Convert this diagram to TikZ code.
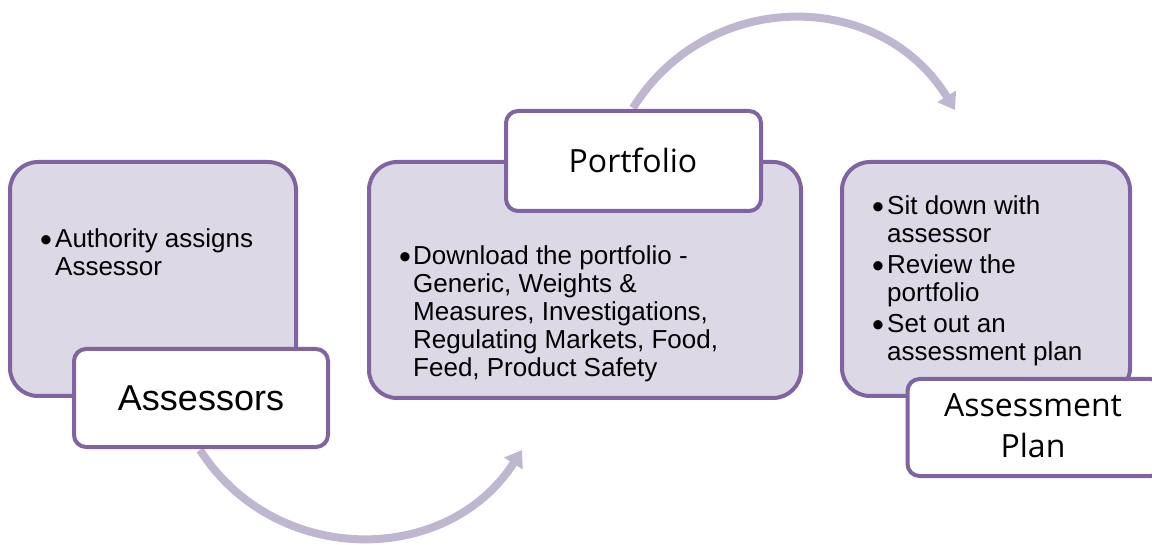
\documentclass[tikz,border=0pt]{standalone}
\usepackage{fontspec}
\setmainfont{Liberation Sans}
\newfontfamily\titlefont{Open Sans}
\usetikzlibrary{arrows.meta}
\definecolor{boxline}{HTML}{8064A2}
\definecolor{boxfill}{HTML}{DCD8E5}
\definecolor{arrowcol}{HTML}{BFB6D0}
\tikzset{
 bigbox/.style={draw=boxline, fill=boxfill, line width=4pt, rounded corners=28pt, inner sep=0pt},
 tagbox/.style={draw=boxline, fill=white, line width=4pt, rounded corners=12pt, inner sep=0pt},
 body/.style={anchor=base west, inner sep=0pt, font=\fontsize{26}{28}\selectfont},
 dot/.style={anchor=base, inner sep=0pt, yshift=-4pt, font=\fontsize{34}{34}\selectfont},
 bigtext/.style={anchor=base, inner sep=0pt, font=\fontsize{36}{40}\selectfont},
 titletext/.style={anchor=base, inner sep=0pt, font=\titlefont\fontsize{32}{40}\selectfont},
 flow/.style={draw=arrowcol, line width=8pt, -{Triangle[length=16pt,width=21pt]}},
}
\begin{document}
\begin{tikzpicture}[x=1pt,y=-1pt]
\useasboundingbox (0,0) rectangle (1152,545);
\clip (0,0) rectangle (1152,545);
% connectors
\coordinate (a1s) at (200,450);
\coordinate (a1e) at (522,450);
\coordinate (a2s) at (633,108);
\coordinate (a2e) at (955,110);
\draw[flow] (a1s) .. controls (275,567) and (447,567) .. (a1e);
\draw[flow] (a2s) .. controls (708,-12) and (880,-12) .. (a2e);
% boxes
\node[bigbox, minimum width=286pt, minimum height=234pt] (b1) at (153,279) {};
\node[tagbox, minimum width=254pt, minimum height=98pt] (t1) at (201,398) {};
\node[bigbox, minimum width=432pt, minimum height=236pt] (b2) at (585,280) {};
\node[tagbox, minimum width=255pt, minimum height=100pt] (t2) at (633.5,161) {};
\node[bigbox, minimum width=288pt, minimum height=234pt] (b3) at (986,279) {};
\node[tagbox, minimum width=255pt, minimum height=97pt] (t3) at (1035,427.5) {};
% titles
\node[bigtext] (l1) at (201,410) {Assessors};
\node[titletext] (l2) at (633,173) {Portfolio};
\node[titletext] (l3a) at (1033,417) {Assessment};
\node[titletext] (l3b) at (1033,457) {Plan};
% box 1 text
\node[dot] (d1) at (46,248) {•};
\node[body] (p1a) at (55,248) {Authority assigns};
\node[body] (p1b) at (55,276) {Assessor};
% box 2 text
\node[dot] (d2) at (405,265) {•};
\node[body] (p2a) at (413,265) {Download the portfolio -};
\node[body] (p2b) at (413,293) {Generic, Weights \&};
\node[body] (p2c) at (413,321) {Measures, Investigations,};
\node[body] (p2d) at (413,349) {Regulating Markets, Food,};
\node[body] (p2e) at (413,377) {Feed, Product Safety};
% box 3 text
\node[dot] (d3a) at (878,215) {•};
\node[dot] (d3b) at (878,274) {•};
\node[dot] (d3c) at (878,333) {•};
\node[body] (p3a) at (887,215) {Sit down with};
\node[body] (p3b) at (887,243) {assessor};
\node[body] (p3c) at (887,274) {Review the};
\node[body] (p3d) at (887,302) {portfolio};
\node[body] (p3e) at (887,333) {Set out an};
\node[body] (p3f) at (887,361) {assessment plan};
\end{tikzpicture}
\end{document}
